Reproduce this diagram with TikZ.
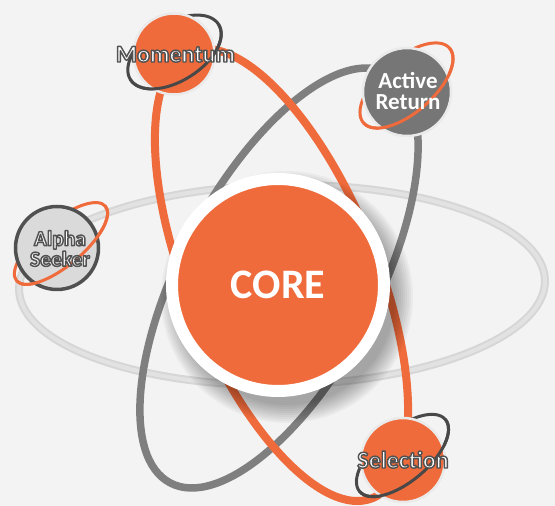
\documentclass[tikz,border=0pt]{standalone}
\usepackage{fontspec}
\setmainfont{Carlito}
\definecolor{bg}{HTML}{F3F3F3}
\definecolor{orng}{HTML}{F06B3B}
\definecolor{grayorb}{HTML}{7F7F7F}
\definecolor{lightorb}{HTML}{D6D6D6}
\definecolor{lightorbin}{HTML}{E2E2E2}
\definecolor{darkring}{HTML}{484848}
\definecolor{rim}{HTML}{EAEAEA}
\definecolor{argray}{HTML}{767676}
\definecolor{aslight}{HTML}{DADADA}
\definecolor{asborder}{HTML}{505050}
\makeatletter
\newcommand\outl[1]{\pgfsys@beginscope\pgfsys@invoke{0.32 0.32 0.32 RG 1.45 w 1 j 2 Tr}#1\pgfsys@endscope}
\makeatother
\tikzset{
  orbit/.style={line width=8pt},
  satring/.style={line width=3pt},
  sat/.style={circle, inner sep=0pt, line width=2.5pt, draw=rim},
  lbl/.style={font=\fontsize{24}{24}\selectfont\bfseries, text=white, anchor=base, inner sep=0pt},
  lbltwo/.style={font=\fontsize{23}{21}\selectfont\bfseries, text=white, align=center, inner sep=0pt},
  lblsmall/.style={font=\fontsize{21.5}{20.5}\selectfont\bfseries, text=white, align=center, inner sep=0pt}
}
\begin{document}
\begin{tikzpicture}[x=1pt,y=1pt]
\useasboundingbox (0,0) rectangle (555,506);
\fill[bg] (0,0) rectangle (555,506);

% light horizontal orbit
\begin{scope}[shift={(282,221)}, rotate=1]
  \draw[line width=8pt, lightorb] (0,0) ellipse [x radius=263, y radius=100];
  \draw[line width=4pt, lightorbin] (0,0) ellipse [x radius=263, y radius=100];
\end{scope}
% gray orbit
\begin{scope}[shift={(279,228)}, rotate=62]
  \draw[orbit, line width=7.5pt, grayorb] (0,0) ellipse [x radius=232, y radius=98];
\end{scope}
% orange orbit
\begin{scope}[shift={(281.5,231)}, rotate=-67.8]
  \draw[orbit, orng] (0,0) ellipse [x radius=241, y radius=95];
\end{scope}

% core shadow
\foreach \r in {108,110,...,126} {
  \fill[black, opacity=0.035] (287,209) circle (\r);
}
\node[circle, inner sep=0pt, minimum size=212pt, fill=orng, draw=white, line width=12pt,
      text=white, font=\fontsize{42}{42}\selectfont\bfseries] (core) at (278,221) {CORE};

% Momentum
\begin{scope}[shift={(174.5,454)}, rotate=32]
  \draw[satring, darkring] (0,0) ellipse [x radius=52, y radius=29];
\end{scope}
\node[sat, fill=orng, minimum size=81pt] (mom) at (174,452) {};
\begin{scope}[shift={(174.5,454)}, rotate=32]
  \draw[satring, darkring] (52,0) arc[start angle=0, end angle=-180, x radius=52, y radius=29];
\end{scope}
\node[lbl] (momtext) at (175.5,444) {\outl{Momentum}};

% Active Return
\begin{scope}[shift={(406.5,420.5)}, rotate=41]
  \draw[satring, orng] (0,0) ellipse [x radius=57, y radius=27];
\end{scope}
\node[sat, fill=argray, minimum size=88pt] (act) at (407,414) {};
\begin{scope}[shift={(406.5,420.5)}, rotate=41]
  \draw[satring, orng] (57,0) arc[start angle=0, end angle=-180, x radius=57, y radius=27];
\end{scope}
\node[lbltwo] (acttext) at (408,415) {Active\\Return};

% Alpha Seeker
\begin{scope}[shift={(61,262.5)}, rotate=40]
  \draw[satring, orng] (0,0) ellipse [x radius=58, y radius=22];
\end{scope}
\node[sat, fill=aslight, draw=asborder, line width=3.5pt, minimum size=83pt] (alpha) at (57,258) {};
\begin{scope}[shift={(61,262.5)}, rotate=40]
  \draw[satring, orng] (58,0) arc[start angle=0, end angle=-180, x radius=58, y radius=22];
\end{scope}
\node[lblsmall] (alphatext) at (60,257.5) {\outl{Alpha}\\\outl{Seeker}};

% Selection
\begin{scope}[shift={(402.5,50.5)}, rotate=40]
  \draw[satring, darkring] (0,0) ellipse [x radius=56, y radius=26];
\end{scope}
\node[sat, fill=orng, minimum size=84pt] (sel) at (403,46) {};
\begin{scope}[shift={(402.5,50.5)}, rotate=40]
  \draw[satring, darkring] (56,0) arc[start angle=0, end angle=-180, x radius=56, y radius=26];
\end{scope}
\node[lbl] (seltext) at (403,38) {\outl{Selection}};
\end{tikzpicture}
\end{document}
